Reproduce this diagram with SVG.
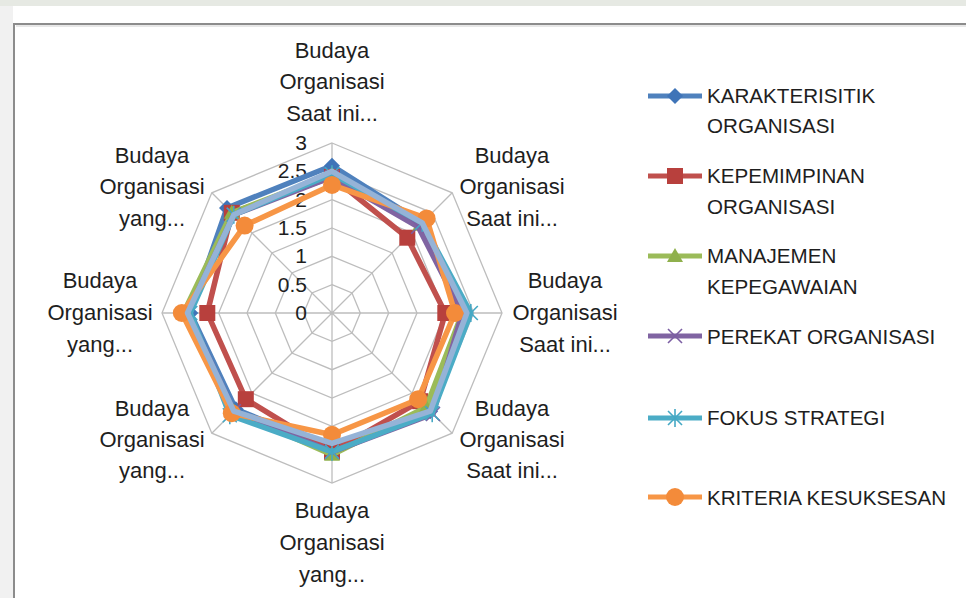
<svg xmlns="http://www.w3.org/2000/svg" xmlns:xlink="http://www.w3.org/1999/xlink" width="966" height="598" viewBox="0 0 966 598">
  <style>
    text { font-family: "Liberation Sans", Arial, sans-serif; fill: #1e1e1e; }
    .cat { font-size: 22px; text-anchor: middle; }
    .tick { font-size: 21px; text-anchor: end; }
    .leg { font-size: 20.6px; }
    .grid { fill: none; stroke: #bdbdbd; stroke-width: 1.3; }
    .series { fill: none; stroke-width: 5.5; stroke-linejoin: round; }
  </style>
  <defs>
    <polygon id="m-dia" points="0,-8 8,0 0,8 -8,0" fill="#3f74b8"/>
    <rect id="m-sq" x="-8" y="-8" width="16" height="16" fill="#b8403d"/>
    <polygon id="m-tri" points="0,-8 8,6 -8,6" fill="#8fb04c"/>
    <g id="m-x" stroke="#7b5ea3" stroke-width="1.6">
      <line x1="-7" y1="-7" x2="7" y2="7"/>
      <line x1="-7" y1="7" x2="7" y2="-7"/>
    </g>
    <g id="m-star" stroke="#45a8c4" stroke-width="1.6">
      <line x1="-7" y1="-7" x2="7" y2="7"/>
      <line x1="-7" y1="7" x2="7" y2="-7"/>
      <line x1="0" y1="-9" x2="0" y2="9"/>
    </g>
    <circle id="m-dot" r="9" fill="#f38b3a"/>
  </defs>

  <!-- page background and chart frame -->
  <rect x="0" y="0" width="966" height="598" fill="#f1f1f1"/>
  <rect x="0" y="0" width="966" height="6" fill="#e6e9e3"/>
  <rect x="13" y="6" width="953" height="17" fill="#ffffff"/>
  <rect x="14" y="24" width="960" height="580" fill="#ffffff" stroke="#8c8c8c" stroke-width="2"/>
  <line x1="16" y1="26" x2="966" y2="26" stroke="#d0d0d0" stroke-width="1"/>

  <!-- radar grid -->
  <g id="grid">
    <polygon class="grid" points="332,143 452.2,192.8 502,313 452.2,433.2 332,483 211.8,433.2 162,313 211.8,192.8"/>
    <polygon class="grid" points="332,171.3 432.2,212.8 473.7,313 432.2,413.2 332,454.7 231.8,413.2 190.3,313 231.8,212.8"/>
    <polygon class="grid" points="332,199.7 412.1,232.9 445.3,313 412.1,393.1 332,426.3 251.9,393.1 218.7,313 251.9,232.9"/>
    <polygon class="grid" points="332,228 392.1,252.9 417,313 392.1,373.1 332,398 271.9,373.1 247,313 271.9,252.9"/>
    <polygon class="grid" points="332,256.3 372.1,272.9 388.7,313 372.1,353.1 332,369.7 291.9,353.1 275.3,313 291.9,272.9"/>
    <polygon class="grid" points="332,284.7 352,293 360.3,313 352,333 332,341.3 312,333 303.7,313 312,293"/>
    <path class="grid" d="M332,313 L332,143 M332,313 L452.2,192.8 M332,313 L502,313 M332,313 L452.2,433.2 M332,313 L332,483 M332,313 L211.8,433.2 M332,313 L162,313 M332,313 L211.8,192.8"/>
  </g>

  <!-- value axis ticks -->
  <g id="ticks">
    <text class="tick" x="307" y="150">3</text>
    <text class="tick" x="307" y="178">2.5</text>
    <text class="tick" x="307" y="207">2</text>
    <text class="tick" x="307" y="235">1.5</text>
    <text class="tick" x="307" y="263">1</text>
    <text class="tick" x="307" y="292">0.5</text>
    <text class="tick" x="307" y="320">0</text>
  </g>

  <!-- category labels -->
  <g id="axis-0"><text class="cat" x="332" y="58">Budaya</text><text class="cat" x="332" y="89">Organisasi</text><text class="cat" x="332" y="121">Saat ini...</text></g>
  <g id="axis-1"><text class="cat" x="512" y="163">Budaya</text><text class="cat" x="512" y="194">Organisasi</text><text class="cat" x="512" y="226">Saat ini...</text></g>
  <g id="axis-2"><text class="cat" x="565" y="288">Budaya</text><text class="cat" x="565" y="320">Organisasi</text><text class="cat" x="565" y="352">Saat ini...</text></g>
  <g id="axis-3"><text class="cat" x="512" y="416">Budaya</text><text class="cat" x="512" y="447">Organisasi</text><text class="cat" x="512" y="478">Saat ini...</text></g>
  <g id="axis-4"><text class="cat" x="332" y="518">Budaya</text><text class="cat" x="332" y="550">Organisasi</text><text class="cat" x="332" y="582">yang...</text></g>
  <g id="axis-5"><text class="cat" x="152" y="416">Budaya</text><text class="cat" x="152" y="447">Organisasi</text><text class="cat" x="152" y="478">yang...</text></g>
  <g id="axis-6"><text class="cat" x="100" y="288">Budaya</text><text class="cat" x="100" y="320">Organisasi</text><text class="cat" x="100" y="352">yang...</text></g>
  <g id="axis-7"><text class="cat" x="152" y="163">Budaya</text><text class="cat" x="152" y="194">Organisasi</text><text class="cat" x="152" y="226">yang...</text></g>

  <!-- data series -->
  <g id="series">
    <g id="s-karakteristik">
      <polygon class="series" stroke="#4f81bd" points="332,165.7 422.2,222.8 465.2,313 430.2,411.2 332,449 235.8,409.2 190.3,313 227,208"/>
      <use href="#m-dia" x="332" y="165.7"/><use href="#m-dia" x="422.2" y="222.8"/><use href="#m-dia" x="465.2" y="313"/><use href="#m-dia" x="430.2" y="411.2"/>
      <use href="#m-dia" x="332" y="449"/><use href="#m-dia" x="235.8" y="409.2"/><use href="#m-dia" x="190.3" y="313"/><use href="#m-dia" x="227" y="208"/>
    </g>
    <g id="s-kepemimpinan">
      <polygon class="series" stroke="#c0504d" points="332,177 407.3,237.7 445.3,313 420.2,401.2 332,451.8 245.8,399.2 207.3,313 231.8,212.8"/>
      <use href="#m-sq" x="332" y="177"/><use href="#m-sq" x="407.3" y="237.7"/><use href="#m-sq" x="445.3" y="313"/><use href="#m-sq" x="420.2" y="401.2"/>
      <use href="#m-sq" x="332" y="451.8"/><use href="#m-sq" x="245.8" y="399.2"/><use href="#m-sq" x="207.3" y="313"/><use href="#m-sq" x="231.8" y="212.8"/>
    </g>
    <g id="s-manajemen">
      <polygon class="series" stroke="#9bbb59" points="332,174.2 420.2,224.8 462.3,313 426.2,407.2 332,454.7 233.8,411.2 183.5,313 231.8,212.8"/>
      <use href="#m-tri" x="332" y="174.2"/><use href="#m-tri" x="420.2" y="224.8"/><use href="#m-tri" x="462.3" y="313"/><use href="#m-tri" x="426.2" y="407.2"/>
      <use href="#m-tri" x="332" y="454.7"/><use href="#m-tri" x="233.8" y="411.2"/><use href="#m-tri" x="183.5" y="313"/><use href="#m-tri" x="231.8" y="212.8"/>
    </g>
    <g id="s-perekat">
      <polygon class="series" stroke="#8064a2" points="332,177 418.2,226.8 462.3,313 433,414 332,451.8 233.8,411.2 187.5,313 233.8,214.8"/>
      <use href="#m-x" x="332" y="177"/><use href="#m-x" x="418.2" y="226.8"/><use href="#m-x" x="462.3" y="313"/><use href="#m-x" x="433" y="414"/>
      <use href="#m-x" x="332" y="451.8"/><use href="#m-x" x="233.8" y="411.2"/><use href="#m-x" x="187.5" y="313"/><use href="#m-x" x="233.8" y="214.8"/>
    </g>
    <g id="s-fokus">
      <polygon class="series" stroke="#4bacc6" points="332,174.2 422.2,222.8 470.8,313 432.2,413.2 332,451.8 229.8,415.2 190.3,313 233.8,214.8"/>
      <use href="#m-star" x="332" y="174.2"/><use href="#m-star" x="422.2" y="222.8"/><use href="#m-star" x="470.8" y="313"/><use href="#m-star" x="432.2" y="413.2"/>
      <use href="#m-star" x="332" y="451.8"/><use href="#m-star" x="229.8" y="415.2"/><use href="#m-star" x="190.3" y="313"/><use href="#m-star" x="233.8" y="214.8"/>
    </g>
    <g id="s-kriteria">
      <polygon class="series" stroke="#f79646" points="332,184.9 426.6,218.4 455,313 418.2,399.2 332,434.8 231.8,413.2 181.8,313 244.6,225.6"/>
      <use href="#m-dot" x="332" y="184.9"/><use href="#m-dot" x="426.6" y="218.4"/><use href="#m-dot" x="455" y="313"/><use href="#m-dot" x="418.2" y="399.2"/>
      <use href="#m-dot" x="332" y="434.8"/><use href="#m-dot" x="231.8" y="413.2"/><use href="#m-dot" x="181.8" y="313"/><use href="#m-dot" x="244.6" y="225.6"/>
    </g>
    <g id="s-extra">
      <polygon class="series" stroke="#95b3d7" points="332,171.3 422.2,222.8 466.9,313 430.2,411.2 332,443.3 233.8,411.2 187.5,313 233.8,214.8"/>
    </g>
  </g>

  <!-- legend -->
  <g id="legend">
    <g id="leg-karakteristik">
      <line x1="648" y1="96" x2="702" y2="96" stroke="#4f81bd" stroke-width="5"/>
      <use href="#m-dia" x="675" y="96"/>
      <text class="leg" x="707" y="103">KARAKTERISITIK</text>
      <text class="leg" x="707" y="133">ORGANISASI</text>
    </g>
    <g id="leg-kepemimpinan">
      <line x1="648" y1="176" x2="702" y2="176" stroke="#c0504d" stroke-width="5"/>
      <use href="#m-sq" x="675" y="176"/>
      <text class="leg" x="707" y="183">KEPEMIMPINAN</text>
      <text class="leg" x="707" y="214">ORGANISASI</text>
    </g>
    <g id="leg-manajemen">
      <line x1="648" y1="256" x2="702" y2="256" stroke="#9bbb59" stroke-width="5"/>
      <use href="#m-tri" x="675" y="256"/>
      <text class="leg" x="707" y="263">MANAJEMEN</text>
      <text class="leg" x="707" y="294">KEPEGAWAIAN</text>
    </g>
    <g id="leg-perekat">
      <line x1="648" y1="336" x2="702" y2="336" stroke="#8064a2" stroke-width="5"/>
      <use href="#m-x" x="675" y="336"/>
      <text class="leg" x="707" y="344">PEREKAT ORGANISASI</text>
    </g>
    <g id="leg-fokus">
      <line x1="648" y1="418" x2="702" y2="418" stroke="#4bacc6" stroke-width="5"/>
      <use href="#m-star" x="675" y="418"/>
      <text class="leg" x="707" y="425">FOKUS STRATEGI</text>
    </g>
    <g id="leg-kriteria">
      <line x1="648" y1="497" x2="702" y2="497" stroke="#f79646" stroke-width="5"/>
      <use href="#m-dot" x="675" y="497"/>
      <text class="leg" x="707" y="505">KRITERIA KESUKSESAN</text>
    </g>
  </g>
</svg>
